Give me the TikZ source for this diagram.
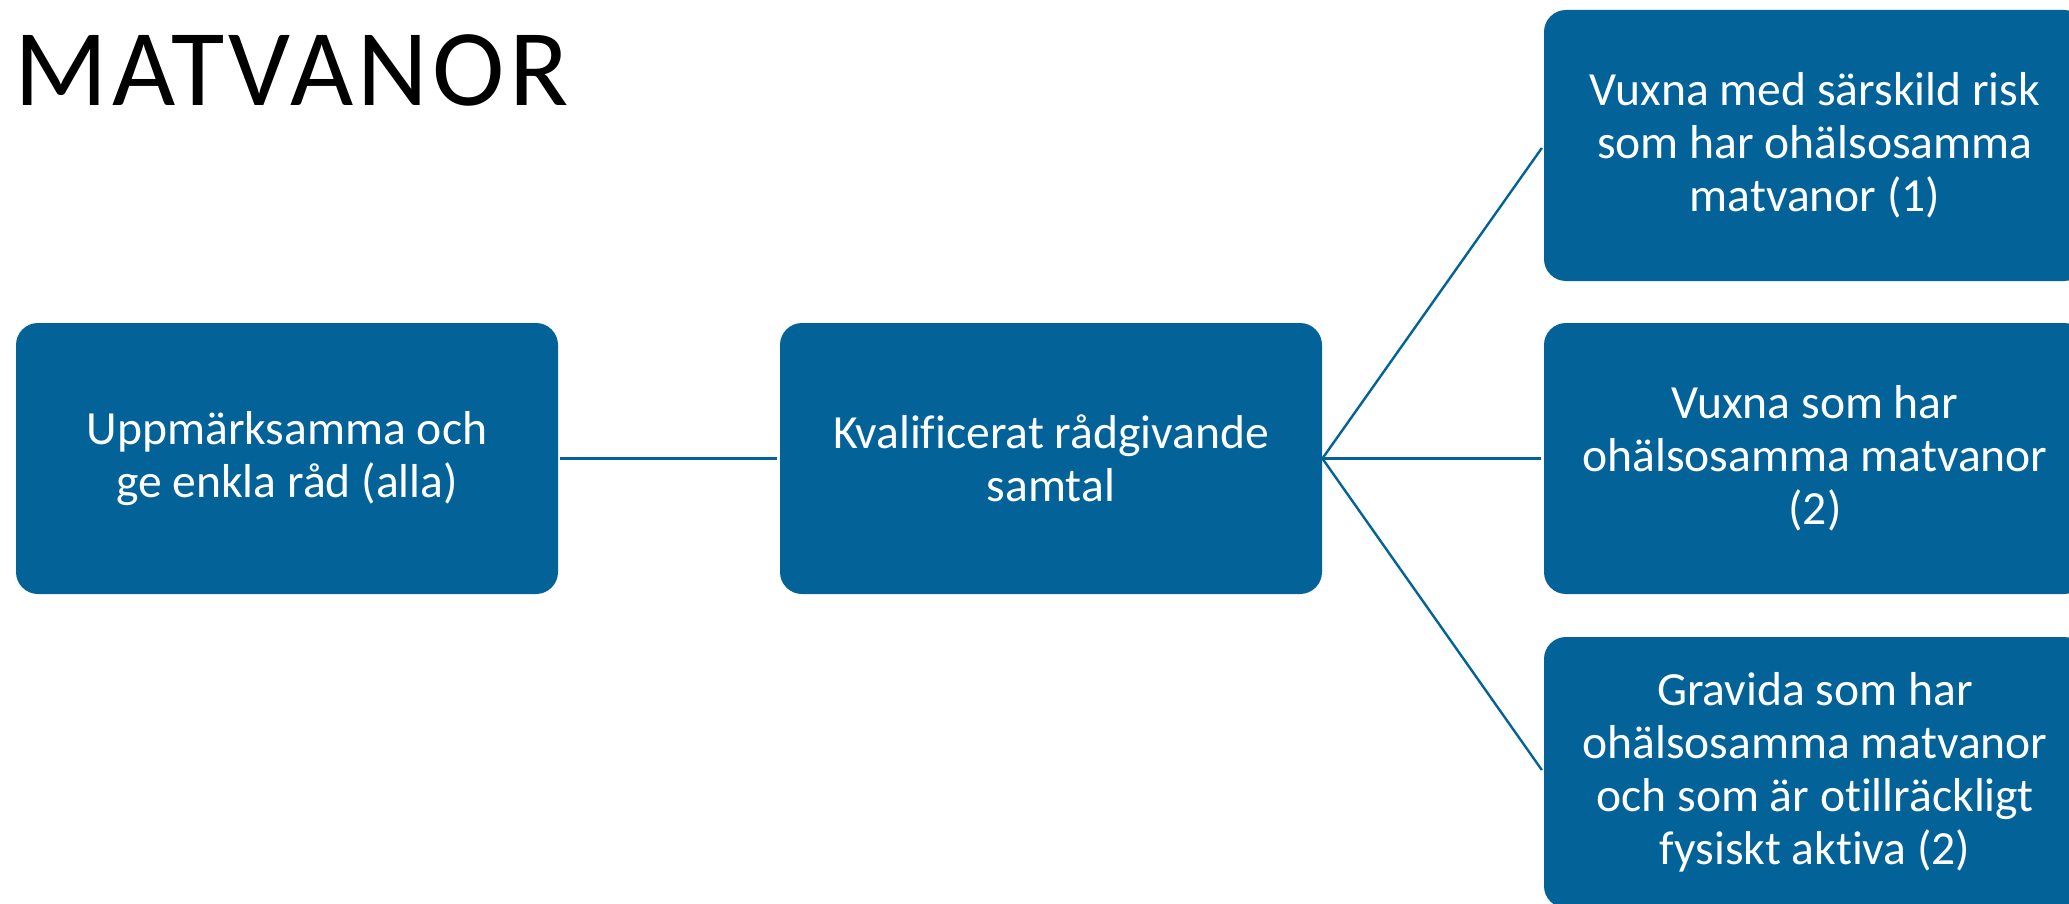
\documentclass[tikz,border=0pt]{standalone}
\usepackage{fontspec}
\setmainfont{Carlito}[Ligatures={NoCommon}]
\definecolor{boxblue}{RGB}{3,99,153}
\begin{document}
\begin{tikzpicture}[x=0.5pt,y=-0.5pt,
  card/.style={fill=boxblue, draw=none, rounded corners=11pt,
    minimum width=271pt, minimum height=135.5pt, inner sep=0pt,
    text=white, align=center, font=\fontsize{23.8}{26.5}\selectfont},
  link/.style={draw=boxblue, line width=1.2pt}]
\clip (0,0) rectangle (2069,904);
\fill[white] (0,0) rectangle (2069,904);

% heading
\node[anchor=base west, inner sep=0pt,
  font=\fontsize{54.6}{60}\selectfont\addfontfeature{LetterSpace=4}]
  (title) at (14,106) {MATVANOR};

% boxes
\node[card] (first) at (287,458.5) {Uppmärksamma och\\ge enkla råd (alla)};
\node[card] (mid) at (1051,458.5) {Kvalificerat rådgivande\\samtal};
\node[card] (top) at (1815,145.5) {Vuxna med särskild risk\\som har ohälsosamma\\matvanor (1)};
\node[card] (centre) at (1815,458.5) {Vuxna som har\\ohälsosamma matvanor\\(2)};
\node[card] (bottom) at (1815,772.5) {Gravida som har\\ohälsosamma matvanor\\och som är otillräckligt\\fysiskt aktiva (2)};

% connectors
\draw[link, shorten <=1pt, shorten >=1.5pt] (first.east) -- (mid.west);
\draw[link, shorten >=1.5pt] (mid.east) -- (top.west);
\draw[link, shorten >=1.5pt] (mid.east) -- (centre.west);
\draw[link, shorten >=1.5pt] (mid.east) -- (bottom.west);
\end{tikzpicture}
\end{document}
